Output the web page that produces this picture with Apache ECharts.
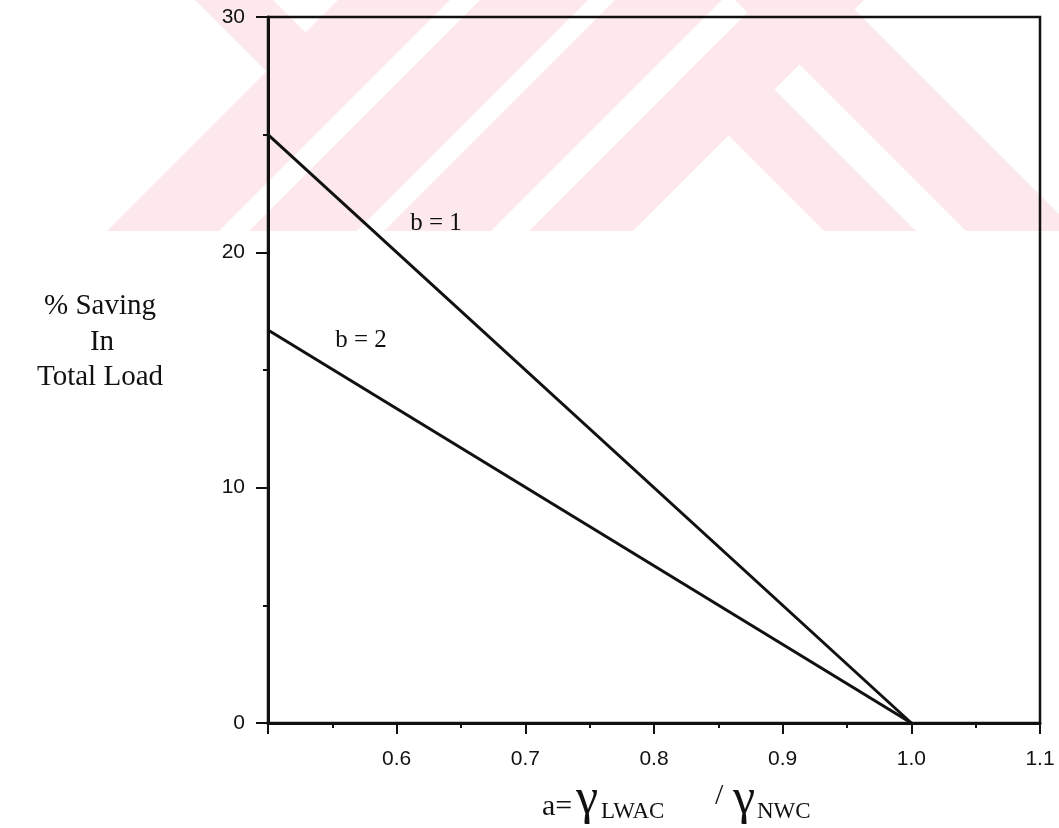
<!DOCTYPE html>
<html>
<head>
<meta charset="utf-8">
<title>% Saving in Total Load</title>
<script src="https://cdn.jsdelivr.net/npm/echarts@6/dist/echarts.min.js"></script>
<style>
  html, body { margin: 0; padding: 0; background: #fff; }
  #chart { width: 1059px; height: 828px; }
</style>
</head>
<body>
<div id="chart"></div>
<script>
// ---------- DATA ----------
const aValues = [0.5, 1.0];          // a = gamma LWAC / gamma NWC
const savingB1 = [25.0, 0];          // b = 1
const savingB2 = [16.7, 0];          // b = 2
const xRange = [0.5, 1.1];
const yTicks = [0, 10, 20, 30];

const serif = "'Liberation Serif', 'DejaVu Serif', serif";
const sans = "'Liberation Sans', Arial, sans-serif";
const ink = '#111';

function pairs(xs, ys) {
  return xs.map((x, i) => [x, ys[i]]);
}

// faint watermark stripes in the top part of the page (decoration only)
const wmBottom = 231;
const wmColor = '#fde8ec';

function slashBand(c1, c2) {
  return [[c1, 0], [c2, 0], [c2 - wmBottom, wmBottom], [c1 - wmBottom, wmBottom]];
}
function backBand(d1, d2) {
  return [[d1, 0], [d2, 0], [d2 + wmBottom, wmBottom], [d1 + wmBottom, wmBottom]];
}

const watermark = [
  slashBand(338, 450),
  slashBand(480, 588),
  slashBand(615, 722),
  slashBand(760, 864),
  backBand(735, 845),
  [[195, 0], [273, 0], [336.5, 63.5], [297.5, 102.5]],
  [[722.5, 37.5], [916, 231], [824, 231], [676.5, 83.5]]
].map(pts => ({
  type: 'polygon',
  z: -10,
  silent: true,
  shape: { points: pts },
  style: { fill: wmColor }
}));

function txt(text, x, y, size, opts) {
  return Object.assign({
    type: 'text',
    x: x,
    y: y,
    z: 10,
    style: {
      text: text,
      font: size + 'px ' + serif,
      fill: ink,
      align: 'left',
      verticalAlign: 'middle'
    }
  }, opts || {});
}

function centered(text, x, y, size) {
  const t = txt(text, x, y, size);
  t.style.align = 'center';
  return t;
}

// ---------- CHART ----------
const chart = echarts.init(document.getElementById('chart'), null, { renderer: 'canvas' });

const option = {
  backgroundColor: '#fff',
  animation: false,
  grid: {
    left: 268,
    right: 19,
    top: 17,
    bottom: 105,
    show: true,
    borderColor: ink,
    borderWidth: 2.5,
    backgroundColor: 'transparent'
  },
  xAxis: {
    type: 'value',
    min: xRange[0],
    max: xRange[1],
    interval: 0.1,
    axisLine: { show: true, lineStyle: { color: ink, width: 3 } },
    axisTick: { show: true, length: 11, lineStyle: { color: ink, width: 2 } },
    minorTick: { show: true, splitNumber: 2, length: 5, lineStyle: { color: ink, width: 2 } },
    splitLine: { show: false },
    axisLabel: {
      margin: 26,
      color: ink,
      fontFamily: sans,
      fontSize: 21,
      formatter: v => (Math.abs(v - xRange[0]) < 1e-6 ? '' : v.toFixed(1))
    }
  },
  yAxis: {
    type: 'value',
    min: yTicks[0],
    max: yTicks[yTicks.length - 1],
    interval: yTicks[1] - yTicks[0],
    axisLine: { show: true, lineStyle: { color: ink, width: 3 } },
    axisTick: { show: true, length: 12, lineStyle: { color: ink, width: 2 } },
    minorTick: { show: true, splitNumber: 2, length: 5, lineStyle: { color: ink, width: 2 } },
    splitLine: { show: false },
    axisLabel: {
      margin: 23,
      color: ink,
      fontFamily: sans,
      fontSize: 21
    }
  },
  series: [
    {
      name: 'b = 1',
      type: 'line',
      data: pairs(aValues, savingB1),
      symbol: 'none',
      lineStyle: { color: ink, width: 3 }
    },
    {
      name: 'b = 2',
      type: 'line',
      data: pairs(aValues, savingB2),
      symbol: 'none',
      lineStyle: { color: ink, width: 3 }
    }
  ],
  graphic: watermark.concat([
    // curve labels
    centered('b = 1', 436, 223, 25),
    centered('b = 2', 361, 340, 25),
    // y axis title
    centered('% Saving', 100, 306, 29),
    centered('In', 102, 342, 29),
    centered('Total Load', 100, 377, 29),
    // x axis title: a= γLWAC / γNWC
    txt('a=', 542, 807, 30),
    txt('γ', 576, 800, 50),
    txt('LWAC', 601, 812, 23),
    txt('/', 715, 796, 30),
    txt('γ', 733, 800, 50),
    txt('NWC', 757, 812, 23)
  ])
};

chart.setOption(option);
</script>
</body>
</html>
